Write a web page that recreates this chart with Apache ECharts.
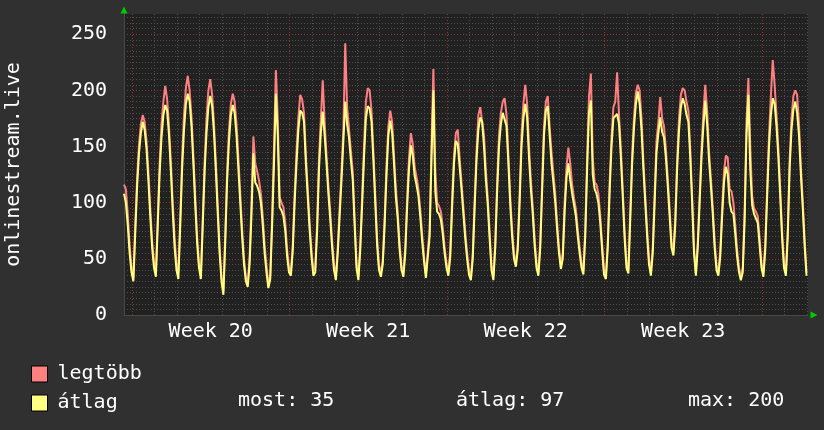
<!DOCTYPE html>
<html><head><meta charset="utf-8">
<script src="https://cdn.jsdelivr.net/npm/echarts@6/dist/echarts.min.js"></script>
<style>html,body{margin:0;padding:0;background:#303030}#c{width:824px;height:430px}</style>
</head><body><div id="c"></div>
<script>
// samples every 2 hours, starting at the left edge of the plot
const stepHours = 2;
const spanHours = 729.6;
const firstMondayHour = 8.53;
const weekLabels = ['Week 20', 'Week 21', 'Week 22', 'Week 23'];
const seriesNames = ['legtöbb', 'átlag'];
const stats = ['most: 35', 'átlag: 97', 'max: 200'];

const legtobb = [
116,112,90,62,42,33,80,122,152,170,178,172,155,128,95,66,47,38,86,135,170,190,204,192,168,136,100,68,46,38,
86,140,178,202,213,200,176,142,105,70,46,36,86,136,175,200,210,196,170,135,97,60,34,21,72,128,165,188,197,190,
170,140,108,76,50,34,28,52,100,159,135,128,120,108,88,62,44,27,36,88,150,218,175,105,100,96,82,58,42,38,
62,108,145,176,196,192,180,142,112,82,57,40,42,82,140,175,209,172,142,115,92,66,45,34,60,95,128,165,242,185,
166,146,128,86,46,34,63,105,150,190,202,200,182,146,107,68,44,37,49,86,133,168,182,172,142,112,91,63,44,37,
60,104,140,162,152,132,123,112,94,72,52,36,35,76,150,219,130,100,97,92,78,60,46,38,57,104,142,162,165,140,
118,96,74,55,40,34,55,102,145,178,185,185,160,128,104,74,44,34,65,118,160,180,190,193,178,143,105,76,54,46,
63,108,160,188,205,188,150,120,96,68,46,38,65,118,168,190,195,168,145,126,108,82,60,44,55,100,132,149,135,116,
104,94,76,60,46,39,76,140,195,215,140,118,116,108,88,63,40,35,65,118,158,185,190,216,178,148,112,74,46,40,
92,142,176,198,205,200,175,138,106,76,50,38,60,108,155,172,194,175,168,148,122,95,65,56,86,138,175,196,202,200,
190,182,148,106,60,38,65,106,148,180,205,182,146,122,96,66,44,38,57,95,128,142,140,112,110,100,80,58,42,34,
42,92,172,211,150,106,95,92,88,68,46,37,63,112,160,195,227,205,178,148,112,74,46,38,76,138,175,195,200,196,
170,132,102,68,38
];
const atlag = [
108,100,80,55,38,30,73,115,144,162,172,165,148,120,88,60,42,34,80,126,158,178,187,182,160,128,92,60,40,32,
80,130,165,188,197,190,168,135,98,64,42,32,80,128,162,185,195,186,162,128,90,55,30,18,65,120,155,178,187,180,
160,130,100,70,45,30,25,46,90,144,118,115,110,100,80,55,38,24,32,80,135,197,160,96,93,88,75,52,38,35,
57,100,135,165,182,180,172,135,105,76,52,35,38,75,130,163,181,160,135,108,85,60,40,31,55,88,120,155,190,170,
158,138,120,80,42,31,58,98,140,175,186,184,172,138,100,62,40,34,45,80,125,160,173,162,135,105,85,58,40,34,
55,96,130,151,142,124,116,106,88,66,48,33,32,70,140,200,110,92,90,85,72,55,42,35,52,96,135,155,152,132,
112,90,68,50,36,31,50,95,138,165,176,172,150,120,98,68,40,31,60,110,150,170,180,181,168,135,98,70,50,43,
58,100,150,175,188,176,140,112,90,62,42,35,60,110,160,182,186,160,135,118,100,76,55,41,50,92,122,135,120,108,
98,88,70,55,42,36,70,130,180,191,125,112,108,100,82,58,36,32,60,110,150,175,177,179,170,140,105,68,42,37,
85,135,167,188,199,188,165,130,100,70,45,35,55,100,145,162,176,163,158,140,115,88,60,53,80,130,164,185,193,188,
178,172,140,100,55,35,60,100,140,168,191,170,138,115,90,60,40,35,52,88,118,132,125,100,92,90,72,52,38,31,
38,85,160,196,130,98,90,86,82,62,42,34,58,105,150,178,193,188,168,140,105,68,42,35,70,130,165,183,190,180,
160,125,95,62,35
];

const FONT = 'DejaVu Sans Mono';
const toPairs = arr => arr.map((v, i) => [i * stepHours, v]);

const dayLines = [];
for (let h = firstMondayHour; h <= spanHours; h += 24) {
  const isWeek = Math.round((h - firstMondayHour) / 24) % 7 === 0;
  dayLines.push({xAxis: h, lineStyle: {color: isWeek ? '#8a3434' : '#4e4e4e', type: [1, 2], width: 1}});
}
const weekMids = weekLabels.map((_, k) => firstMondayHour + 84 + 168 * k);

const chart = echarts.init(document.getElementById('c'), null, {renderer: 'canvas'});
chart.setOption({
  backgroundColor: '#303030',
  animation: false,
  textStyle: {fontFamily: FONT},
  grid: {left: 124, right: 16, top: 14, bottom: 115, show: true, backgroundColor: '#212121', borderWidth: 0,
         containLabel: false, outerBoundsMode: 'none'},
  xAxis: [{
    type: 'value', min: 0, max: spanHours, position: 'bottom',
    axisLine: {show: true, lineStyle: {color: '#4a4a4a', width: 1}},
    axisTick: {show: false},
    splitLine: {show: false},
    axisLabel: {
      customValues: weekMids, color: '#ffffff', fontFamily: FONT, fontSize: 20, margin: 7,
      formatter: v => weekLabels[Math.round((v - firstMondayHour - 84) / 168)] || ''
    }
  }, {
    type: 'value', min: 0, max: spanHours, position: 'bottom',
    axisLine: {show: true, symbol: ['none', 'triangle'], symbolSize: [7, 7], symbolOffset: [0, 6], lineStyle: {color: '#00cc00', width: 0}},
    axisTick: {show: false}, axisLabel: {show: false}, splitLine: {show: false}
  }],
  yAxis: [{
    type: 'value', min: 0, max: 268, interval: 5, position: 'left',
    axisLine: {show: true, lineStyle: {color: '#4a4a4a'}},
    axisTick: {show: false}, axisLabel: {show: false},
    splitLine: {show: true, showMaxLine: false, lineStyle: {color: '#4e4e4e', type: [1, 2], width: 1}}
  }, {
    type: 'value', min: 0, max: 268, interval: 50, position: 'left',
    name: 'onlinestream.live', nameLocation: 'middle', nameRotate: 90, nameGap: 100,
    nameTextStyle: {color: '#ffffff', fontFamily: FONT, fontSize: 20},
    axisLine: {show: false}, axisTick: {show: false},
    axisLabel: {color: '#ffffff', fontFamily: FONT, fontSize: 20, margin: 17, showMaxLabel: false},
    splitLine: {show: true, showMaxLine: false, showMinLine: false, lineStyle: {color: '#8a3434', type: [1, 2], width: 1}}
  }, {
    type: 'value', min: 0, max: 268, position: 'left',
    axisLine: {show: true, symbol: ['none', 'triangle'], symbolSize: [7, 7], symbolOffset: [0, 4], lineStyle: {color: '#00cc00', width: 0}},
    axisTick: {show: false}, axisLabel: {show: false}, splitLine: {show: false}
  }],
  legend: {
    data: seriesNames, orient: 'vertical', left: 31, top: 364, padding: 0,
    itemWidth: 16, itemHeight: 16, itemGap: 9, icon: 'rect',
    itemStyle: {borderColor: '#000000', borderWidth: 1},
    textStyle: {color: '#ffffff', fontFamily: FONT, fontSize: 20, padding: [0, 0, 0, 5]},
    selectedMode: false
  },
  graphic: stats.map((s, k) => ({
    type: 'text', left: [238, 456, 688][k], top: 391,
    style: {text: s, fill: '#ffffff', font: '20px "' + FONT + '"'}
  })),
  series: [{
    name: seriesNames[0], type: 'line', data: toPairs(legtobb), showSymbol: false, symbol: 'none',
    xAxisIndex: 0, yAxisIndex: 0, z: 3,
    lineStyle: {color: '#ff8080', width: 2}, itemStyle: {color: '#ff8080'},
    markLine: {silent: true, z: 1, symbol: ['none', 'none'], label: {show: false}, animation: false, data: dayLines}
  }, {
    name: seriesNames[1], type: 'line', data: toPairs(atlag), showSymbol: false, symbol: 'none',
    xAxisIndex: 0, yAxisIndex: 0, z: 4,
    lineStyle: {color: '#ffff80', width: 2}, itemStyle: {color: '#ffff80'}
  }]
});
</script></body></html>
